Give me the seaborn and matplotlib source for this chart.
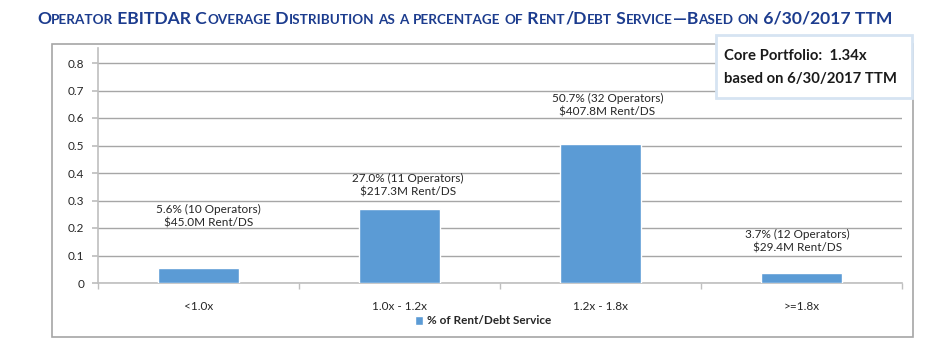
import matplotlib
matplotlib.use("Agg")
import matplotlib.pyplot as plt
from matplotlib.patches import Rectangle
import seaborn as sns
import pandas as pd

# Coverage buckets and their share of rent / debt service
categories = ["<1.0x", "1.0x - 1.2x", "1.2x - 1.8x", ">=1.8x"]
share = [0.056, 0.270, 0.507, 0.037]
operators = [10, 11, 32, 12]
rent_musd = [45.0, 217.3, 407.8, 29.4]
series_name = "% of Rent/Debt Service"
title = "Operator EBITDAR Coverage Distribution as a percentage of Rent/Debt Service\u2014Based on 6/30/2017 TTM"
note_lines = ["Core Portfolio:  1.34x", "based on 6/30/2017 TTM"]

# label placement (points above bar top, points sideways)
label_dy = [28, 8, 19, 14]
label_dx = [7, 6, 5, -3]

W, H = 947, 343
sns.set_theme(style="white")
plt.rcParams["font.family"] = ["Lato", "DejaVu Sans"]

fig = plt.figure(figsize=(W / 100, H / 100), dpi=100)
# y range runs slightly past 0.8 so the value axis line pokes above the top gridline
y_top = 0.855
px_per_unit = 275.0
ax = fig.add_axes([98 / W, 1 - 283 / H, (902 - 98) / W, y_top * px_per_unit / H])

df = pd.DataFrame({"bucket": categories, "share": share})
sns.barplot(data=df, x="bucket", y="share", color="#5B9BD5", width=0.4,
            ax=ax, label=series_name, saturation=1, zorder=3)

ax.set_ylim(0, y_top)
ax.set_xlim(-0.5, len(categories) - 0.5)
ax.set_yticks([i / 10 for i in range(9)])
ax.set_yticklabels(["0"] + [f"{i / 10:.1f}" for i in range(1, 9)])
ax.yaxis.grid(True, color="#A6A6A6", linewidth=1.0, zorder=0)
ax.set_xlabel("")
ax.set_ylabel("")
for side in ["top", "right"]:
    ax.spines[side].set_visible(False)
for side in ["left", "bottom"]:
    ax.spines[side].set_color("#BFBFBF")
    ax.spines[side].set_linewidth(1.2)
ax.tick_params(axis="y", which="major", left=True, length=4, color="#BFBFBF",
               labelsize=8.5, labelcolor="#262626", pad=6)
ax.tick_params(axis="x", which="major", bottom=False, labelsize=8.5,
               labelcolor="#262626", pad=7)
ax.set_xticks([i + 0.5 for i in range(-1, len(categories))], minor=True)
ax.tick_params(axis="x", which="minor", bottom=True, length=4, color="#BFBFBF")

for i, (v, n, r) in enumerate(zip(share, operators, rent_musd)):
    ax.annotate(f"{v * 100:.1f}% ({n} Operators)\n${r:.1f}M Rent/DS",
                xy=(i, v), xytext=(label_dx[i], label_dy[i]),
                textcoords="offset points", ha="center", va="bottom",
                fontsize=8.5, color="#262626", linespacing=1.25)

if ax.get_legend() is not None:
    ax.get_legend().remove()
handles, labels = ax.get_legend_handles_labels()
fig.legend(handles[:1], labels[:1], loc="center", bbox_to_anchor=(483 / W, 1 - 321 / H),
           frameon=False, handlelength=0.7, handleheight=0.7, handletextpad=0.3,
           prop={"weight": "bold", "size": 8.5})

# outer chart frame
fig.patches.append(Rectangle((52 / W, 1 - 337 / H), (913 - 52) / W, (337 - 44) / H,
                             transform=fig.transFigure, fill=False,
                             edgecolor="#A6A6A6", linewidth=1.2, zorder=0))

# note box
fig.patches.append(Rectangle((716 / W, 1 - 98 / H), (912 - 716) / W, (98 - 35) / H,
                             transform=fig.transFigure, facecolor="white",
                             edgecolor="#D6E4F2", linewidth=2, zorder=5))
fig.text(724 / W, 1 - 56 / H, note_lines[0], fontsize=10.7, fontweight="bold",
         color="#1A1A1A", va="center", ha="left", zorder=6)
fig.text(724 / W, 1 - 79 / H, note_lines[1], fontsize=10.7, fontweight="bold",
         color="#1A1A1A", va="center", ha="left", zorder=6)

# title in small capitals
renderer = fig.canvas.get_renderer()
big, small = 12.6, 9.7
runs = []
for ch in title:
    size = small if ch.islower() else big
    if runs and runs[-1][1] == size:
        runs[-1][0] += ch.upper()
    else:
        runs.append([ch.upper(), size])
x = 37.0
for t, size in runs:
    txt = fig.text(x / W, 1 - 24 / H, t, fontsize=size, fontweight="bold",
                   color="#1C3C8E", va="baseline", ha="left")
    x += txt.get_window_extent(renderer).width

fig.savefig("out.png", dpi=100)
